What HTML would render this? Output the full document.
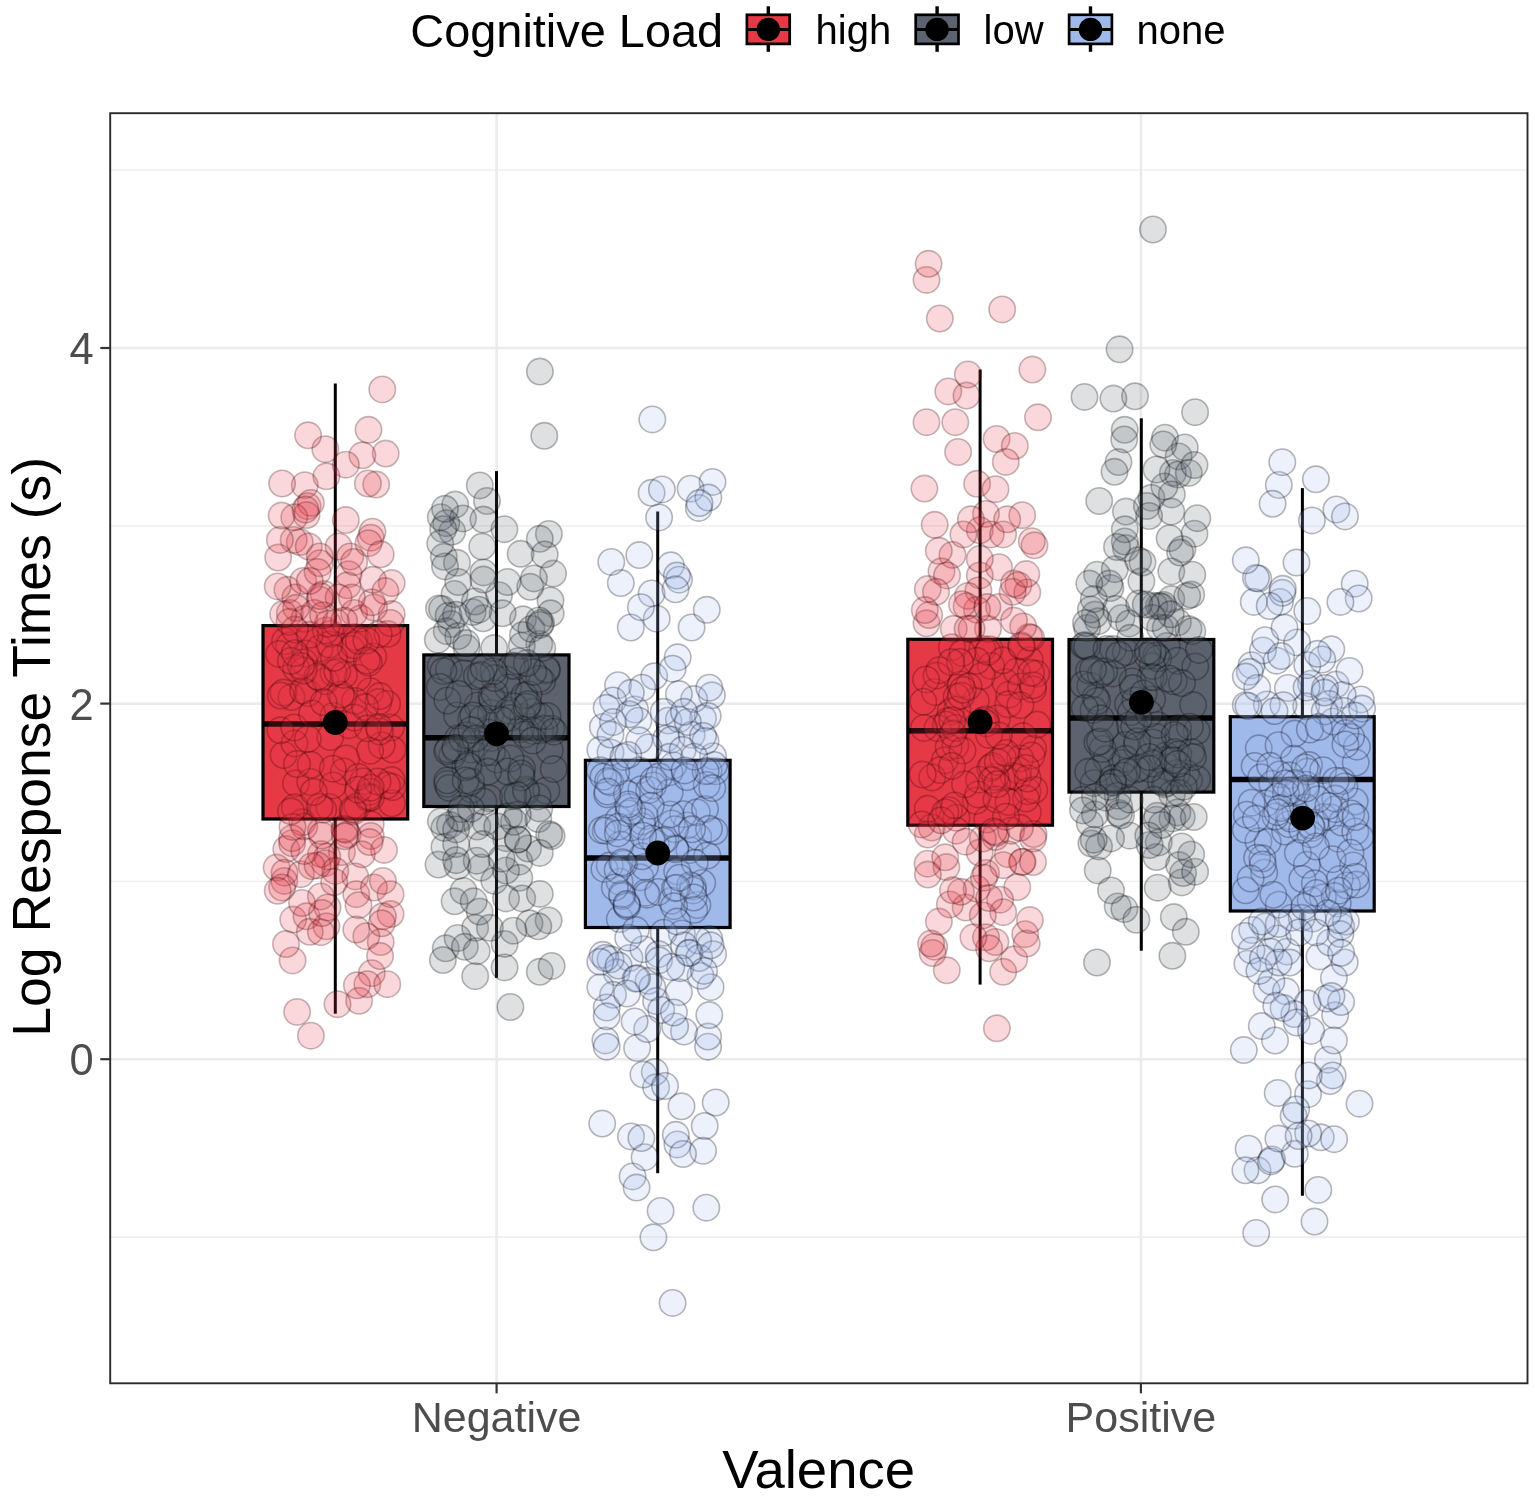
<!DOCTYPE html>
<html><head><meta charset="utf-8"><title>Log Response Times by Valence and Cognitive Load</title>
<style>
html,body{margin:0;padding:0;background:#fff;}
svg{display:block;}
text{font-family:"Liberation Sans",Arial,Helvetica,sans-serif;}
</style></head><body>
<svg width="1535" height="1499" viewBox="0 0 1535 1499">
<rect x="0" y="0" width="1535" height="1499" fill="#ffffff"/>

<g stroke="#ebebeb" fill="none">
<line x1="110.2" x2="1527.5" y1="170.2" y2="170.2" stroke-width="1.3"/>
<line x1="110.2" x2="1527.5" y1="525.8" y2="525.8" stroke-width="1.3"/>
<line x1="110.2" x2="1527.5" y1="881.4" y2="881.4" stroke-width="1.3"/>
<line x1="110.2" x2="1527.5" y1="1237.0" y2="1237.0" stroke-width="1.3"/>
<line x1="110.2" x2="1527.5" y1="348.0" y2="348.0" stroke-width="2.6"/>
<line x1="110.2" x2="1527.5" y1="703.6" y2="703.6" stroke-width="2.6"/>
<line x1="110.2" x2="1527.5" y1="1059.2" y2="1059.2" stroke-width="2.6"/>
<line x1="496.6" x2="496.6" y1="113.2" y2="1383.3" stroke-width="2.6"/>
<line x1="1140.9" x2="1140.9" y1="113.2" y2="1383.3" stroke-width="2.6"/>
</g>
<line x1="335.3" x2="335.3" y1="383.5" y2="625.6" stroke="#000" stroke-width="3"/>
<line x1="335.3" x2="335.3" y1="819.0" y2="1013.7" stroke="#000" stroke-width="3"/>
<rect x="263.0" y="625.6" width="144.7" height="193.4" fill="#e63946" stroke="#000" stroke-width="3.2"/>
<line x1="263.0" x2="407.7" y1="724.0" y2="724.0" stroke="#000" stroke-width="5.5"/>
<line x1="496.5" x2="496.5" y1="471.1" y2="654.9" stroke="#000" stroke-width="3"/>
<line x1="496.5" x2="496.5" y1="806.5" y2="977.8" stroke="#000" stroke-width="3"/>
<rect x="423.8" y="654.9" width="145.2" height="151.6" fill="#5c626e" stroke="#000" stroke-width="3.2"/>
<line x1="423.8" x2="569.0" y1="737.7" y2="737.7" stroke="#000" stroke-width="5.5"/>
<line x1="657.7" x2="657.7" y1="511.5" y2="760.3" stroke="#000" stroke-width="3"/>
<line x1="657.7" x2="657.7" y1="927.5" y2="1173.2" stroke="#000" stroke-width="3"/>
<rect x="585.4" y="760.3" width="144.7" height="167.2" fill="#a0b9eb" stroke="#000" stroke-width="3.2"/>
<line x1="585.4" x2="730.1" y1="858.0" y2="858.0" stroke="#000" stroke-width="5.5"/>
<line x1="980.1" x2="980.1" y1="369.5" y2="639.3" stroke="#000" stroke-width="3"/>
<line x1="980.1" x2="980.1" y1="825.2" y2="984.6" stroke="#000" stroke-width="3"/>
<rect x="907.8" y="639.3" width="144.7" height="185.9" fill="#e63946" stroke="#000" stroke-width="3.2"/>
<line x1="907.8" x2="1052.5" y1="730.8" y2="730.8" stroke="#000" stroke-width="5.5"/>
<line x1="1141.3" x2="1141.3" y1="418.3" y2="639.5" stroke="#000" stroke-width="3"/>
<line x1="1141.3" x2="1141.3" y1="792.1" y2="950.7" stroke="#000" stroke-width="3"/>
<rect x="1069.0" y="639.5" width="144.8" height="152.6" fill="#5c626e" stroke="#000" stroke-width="3.2"/>
<line x1="1069.0" x2="1213.8" y1="718.0" y2="718.0" stroke="#000" stroke-width="5.5"/>
<line x1="1302.4" x2="1302.4" y1="488.1" y2="716.7" stroke="#000" stroke-width="3"/>
<line x1="1302.4" x2="1302.4" y1="911.0" y2="1195.7" stroke="#000" stroke-width="3"/>
<rect x="1230.3" y="716.7" width="143.9" height="194.3" fill="#a0b9eb" stroke="#000" stroke-width="3.2"/>
<line x1="1230.3" x2="1374.2" y1="779.4" y2="779.4" stroke="#000" stroke-width="5.5"/>
<g fill="rgba(230,57,70,0.2)" stroke="rgba(50,0,5,0.27)" stroke-width="1.6">
<circle cx="306.0" cy="653.6" r="13.2"/>
<circle cx="370.2" cy="691.2" r="13.2"/>
<circle cx="289.2" cy="645.5" r="13.2"/>
<circle cx="276.6" cy="867.6" r="13.2"/>
<circle cx="330.2" cy="737.1" r="13.2"/>
<circle cx="299.8" cy="542.1" r="13.2"/>
<circle cx="291.5" cy="697.1" r="13.2"/>
<circle cx="371.8" cy="973.2" r="13.2"/>
<circle cx="390.8" cy="727.5" r="13.2"/>
<circle cx="302.4" cy="822.3" r="13.2"/>
<circle cx="355.2" cy="876.4" r="13.2"/>
<circle cx="283.6" cy="755.0" r="13.2"/>
<circle cx="287.4" cy="589.8" r="13.2"/>
<circle cx="341.9" cy="852.1" r="13.2"/>
<circle cx="327.2" cy="856.4" r="13.2"/>
<circle cx="333.4" cy="716.0" r="13.2"/>
<circle cx="390.6" cy="914.1" r="13.2"/>
<circle cx="357.6" cy="677.7" r="13.2"/>
<circle cx="285.1" cy="641.1" r="13.2"/>
<circle cx="326.4" cy="926.3" r="13.2"/>
<circle cx="338.6" cy="546.5" r="13.2"/>
<circle cx="289.9" cy="613.0" r="13.2"/>
<circle cx="354.8" cy="636.9" r="13.2"/>
<circle cx="310.9" cy="1035.7" r="13.2"/>
<circle cx="368.0" cy="798.3" r="13.2"/>
<circle cx="286.3" cy="849.1" r="13.2"/>
<circle cx="363.1" cy="781.3" r="13.2"/>
<circle cx="304.8" cy="485.2" r="13.2"/>
<circle cx="385.7" cy="453.6" r="13.2"/>
<circle cx="293.2" cy="919.6" r="13.2"/>
<circle cx="325.3" cy="863.2" r="13.2"/>
<circle cx="292.6" cy="960.4" r="13.2"/>
<circle cx="284.3" cy="880.9" r="13.2"/>
<circle cx="292.1" cy="843.2" r="13.2"/>
<circle cx="294.5" cy="743.4" r="13.2"/>
<circle cx="380.7" cy="942.1" r="13.2"/>
<circle cx="306.5" cy="916.3" r="13.2"/>
<circle cx="321.0" cy="854.1" r="13.2"/>
<circle cx="359.1" cy="1000.8" r="13.2"/>
<circle cx="370.7" cy="537.7" r="13.2"/>
<circle cx="382.9" cy="916.3" r="13.2"/>
<circle cx="293.7" cy="539.9" r="13.2"/>
<circle cx="382.3" cy="389.4" r="13.2"/>
<circle cx="283.4" cy="692.6" r="13.2"/>
<circle cx="304.2" cy="662.3" r="13.2"/>
<circle cx="284.5" cy="872.7" r="13.2"/>
<circle cx="319.5" cy="648.4" r="13.2"/>
<circle cx="356.3" cy="894.2" r="13.2"/>
<circle cx="296.0" cy="783.3" r="13.2"/>
<circle cx="391.7" cy="614.1" r="13.2"/>
<circle cx="335.3" cy="870.9" r="13.2"/>
<circle cx="392.5" cy="749.6" r="13.2"/>
<circle cx="374.0" cy="887.5" r="13.2"/>
<circle cx="286.0" cy="944.0" r="13.2"/>
<circle cx="387.6" cy="633.9" r="13.2"/>
<circle cx="323.7" cy="593.9" r="13.2"/>
<circle cx="391.9" cy="803.3" r="13.2"/>
<circle cx="345.2" cy="829.9" r="13.2"/>
<circle cx="350.9" cy="648.8" r="13.2"/>
<circle cx="387.1" cy="704.0" r="13.2"/>
<circle cx="308.0" cy="693.1" r="13.2"/>
<circle cx="300.9" cy="874.2" r="13.2"/>
<circle cx="368.5" cy="429.8" r="13.2"/>
<circle cx="346.2" cy="758.5" r="13.2"/>
<circle cx="381.8" cy="923.3" r="13.2"/>
<circle cx="295.4" cy="597.5" r="13.2"/>
<circle cx="310.3" cy="782.0" r="13.2"/>
<circle cx="325.5" cy="681.2" r="13.2"/>
<circle cx="372.4" cy="531.7" r="13.2"/>
<circle cx="367.4" cy="984.2" r="13.2"/>
<circle cx="354.9" cy="701.1" r="13.2"/>
<circle cx="353.9" cy="645.3" r="13.2"/>
<circle cx="392.5" cy="787.0" r="13.2"/>
<circle cx="390.6" cy="894.2" r="13.2"/>
<circle cx="308.7" cy="546.5" r="13.2"/>
<circle cx="362.4" cy="455.3" r="13.2"/>
<circle cx="303.2" cy="580.9" r="13.2"/>
<circle cx="391.6" cy="780.1" r="13.2"/>
<circle cx="357.4" cy="806.3" r="13.2"/>
<circle cx="307.6" cy="506.2" r="13.2"/>
<circle cx="278.2" cy="557.6" r="13.2"/>
<circle cx="369.9" cy="791.7" r="13.2"/>
<circle cx="282.1" cy="483.5" r="13.2"/>
<circle cx="387.3" cy="984.2" r="13.2"/>
<circle cx="348.6" cy="574.2" r="13.2"/>
<circle cx="282.1" cy="887.5" r="13.2"/>
<circle cx="358.7" cy="640.8" r="13.2"/>
<circle cx="319.8" cy="599.7" r="13.2"/>
<circle cx="373.2" cy="656.7" r="13.2"/>
<circle cx="366.3" cy="936.2" r="13.2"/>
<circle cx="320.9" cy="831.0" r="13.2"/>
<circle cx="370.7" cy="824.4" r="13.2"/>
<circle cx="378.4" cy="702.1" r="13.2"/>
<circle cx="356.9" cy="985.3" r="13.2"/>
<circle cx="325.3" cy="449.2" r="13.2"/>
<circle cx="330.9" cy="633.8" r="13.2"/>
<circle cx="309.8" cy="931.8" r="13.2"/>
<circle cx="376.2" cy="484.6" r="13.2"/>
<circle cx="347.5" cy="585.3" r="13.2"/>
<circle cx="374.0" cy="607.5" r="13.2"/>
<circle cx="343.0" cy="698.1" r="13.2"/>
<circle cx="390.6" cy="623.0" r="13.2"/>
<circle cx="338.6" cy="597.5" r="13.2"/>
<circle cx="296.1" cy="668.3" r="13.2"/>
<circle cx="384.0" cy="849.9" r="13.2"/>
<circle cx="304.3" cy="826.6" r="13.2"/>
<circle cx="329.2" cy="806.9" r="13.2"/>
<circle cx="353.5" cy="811.3" r="13.2"/>
<circle cx="304.3" cy="618.8" r="13.2"/>
<circle cx="381.7" cy="745.3" r="13.2"/>
<circle cx="358.5" cy="905.2" r="13.2"/>
<circle cx="279.9" cy="539.9" r="13.2"/>
<circle cx="322.0" cy="835.5" r="13.2"/>
<circle cx="354.1" cy="613.0" r="13.2"/>
<circle cx="310.9" cy="502.9" r="13.2"/>
<circle cx="320.9" cy="932.2" r="13.2"/>
<circle cx="350.2" cy="556.5" r="13.2"/>
<circle cx="292.1" cy="838.2" r="13.2"/>
<circle cx="306.5" cy="515.1" r="13.2"/>
<circle cx="280.7" cy="695.5" r="13.2"/>
<circle cx="354.1" cy="562.0" r="13.2"/>
<circle cx="379.8" cy="731.5" r="13.2"/>
<circle cx="280.4" cy="730.3" r="13.2"/>
<circle cx="327.5" cy="907.5" r="13.2"/>
<circle cx="320.9" cy="896.4" r="13.2"/>
<circle cx="356.3" cy="929.6" r="13.2"/>
<circle cx="311.7" cy="866.2" r="13.2"/>
<circle cx="391.7" cy="583.1" r="13.2"/>
<circle cx="343.8" cy="771.4" r="13.2"/>
<circle cx="277.7" cy="890.8" r="13.2"/>
<circle cx="323.2" cy="809.7" r="13.2"/>
<circle cx="279.0" cy="653.9" r="13.2"/>
<circle cx="296.2" cy="607.8" r="13.2"/>
<circle cx="370.9" cy="797.4" r="13.2"/>
<circle cx="345.8" cy="520.1" r="13.2"/>
<circle cx="334.2" cy="882.0" r="13.2"/>
<circle cx="379.9" cy="696.1" r="13.2"/>
<circle cx="380.1" cy="956.0" r="13.2"/>
<circle cx="319.8" cy="563.2" r="13.2"/>
<circle cx="337.5" cy="1004.2" r="13.2"/>
<circle cx="340.9" cy="694.6" r="13.2"/>
<circle cx="289.5" cy="621.8" r="13.2"/>
<circle cx="329.4" cy="644.5" r="13.2"/>
<circle cx="333.6" cy="672.9" r="13.2"/>
<circle cx="332.9" cy="785.4" r="13.2"/>
<circle cx="310.7" cy="764.8" r="13.2"/>
<circle cx="367.8" cy="796.4" r="13.2"/>
<circle cx="294.3" cy="727.5" r="13.2"/>
<circle cx="370.7" cy="836.0" r="13.2"/>
<circle cx="303.2" cy="690.7" r="13.2"/>
<circle cx="319.8" cy="678.0" r="13.2"/>
<circle cx="307.8" cy="738.8" r="13.2"/>
<circle cx="348.9" cy="725.2" r="13.2"/>
<circle cx="360.7" cy="618.5" r="13.2"/>
<circle cx="343.9" cy="674.9" r="13.2"/>
<circle cx="325.9" cy="630.4" r="13.2"/>
<circle cx="378.7" cy="634.3" r="13.2"/>
<circle cx="327.9" cy="623.5" r="13.2"/>
<circle cx="294.3" cy="517.3" r="13.2"/>
<circle cx="297.0" cy="764.0" r="13.2"/>
<circle cx="309.7" cy="634.8" r="13.2"/>
<circle cx="371.9" cy="602.3" r="13.2"/>
<circle cx="312.1" cy="713.6" r="13.2"/>
<circle cx="368.5" cy="543.2" r="13.2"/>
<circle cx="367.9" cy="483.5" r="13.2"/>
<circle cx="317.6" cy="865.4" r="13.2"/>
<circle cx="314.2" cy="613.0" r="13.2"/>
<circle cx="347.5" cy="834.4" r="13.2"/>
<circle cx="305.4" cy="509.5" r="13.2"/>
<circle cx="354.3" cy="717.5" r="13.2"/>
<circle cx="380.7" cy="554.3" r="13.2"/>
<circle cx="344.4" cy="828.9" r="13.2"/>
<circle cx="317.6" cy="676.4" r="13.2"/>
<circle cx="365.1" cy="707.1" r="13.2"/>
<circle cx="337.3" cy="671.6" r="13.2"/>
<circle cx="294.8" cy="629.6" r="13.2"/>
<circle cx="370.1" cy="750.7" r="13.2"/>
<circle cx="319.6" cy="806.7" r="13.2"/>
<circle cx="386.9" cy="785.3" r="13.2"/>
<circle cx="319.8" cy="556.5" r="13.2"/>
<circle cx="294.8" cy="807.2" r="13.2"/>
<circle cx="292.5" cy="826.9" r="13.2"/>
<circle cx="317.6" cy="572.0" r="13.2"/>
<circle cx="351.9" cy="597.5" r="13.2"/>
<circle cx="367.7" cy="728.3" r="13.2"/>
<circle cx="308.1" cy="435.3" r="13.2"/>
<circle cx="377.5" cy="781.5" r="13.2"/>
<circle cx="283.2" cy="614.1" r="13.2"/>
<circle cx="336.1" cy="622.4" r="13.2"/>
<circle cx="345.8" cy="464.7" r="13.2"/>
<circle cx="358.4" cy="776.9" r="13.2"/>
<circle cx="352.7" cy="809.6" r="13.2"/>
<circle cx="372.9" cy="579.8" r="13.2"/>
<circle cx="334.0" cy="657.8" r="13.2"/>
<circle cx="303.6" cy="670.5" r="13.2"/>
<circle cx="368.8" cy="662.7" r="13.2"/>
<circle cx="301.0" cy="666.1" r="13.2"/>
<circle cx="378.8" cy="727.0" r="13.2"/>
<circle cx="290.9" cy="660.8" r="13.2"/>
<circle cx="323.6" cy="702.3" r="13.2"/>
<circle cx="385.4" cy="591.1" r="13.2"/>
<circle cx="322.0" cy="913.0" r="13.2"/>
<circle cx="358.1" cy="789.7" r="13.2"/>
<circle cx="281.6" cy="515.6" r="13.2"/>
<circle cx="277.7" cy="586.4" r="13.2"/>
<circle cx="297.1" cy="1011.9" r="13.2"/>
<circle cx="313.7" cy="791.9" r="13.2"/>
<circle cx="361.8" cy="854.3" r="13.2"/>
<circle cx="302.0" cy="903.0" r="13.2"/>
<circle cx="366.4" cy="640.5" r="13.2"/>
<circle cx="370.8" cy="787.7" r="13.2"/>
<circle cx="304.3" cy="851.0" r="13.2"/>
<circle cx="344.9" cy="836.3" r="13.2"/>
<circle cx="382.9" cy="880.9" r="13.2"/>
<circle cx="294.8" cy="653.2" r="13.2"/>
<circle cx="369.6" cy="842.1" r="13.2"/>
<circle cx="326.4" cy="476.3" r="13.2"/>
<circle cx="344.1" cy="620.7" r="13.2"/>
<circle cx="332.8" cy="768.7" r="13.2"/>
<circle cx="323.1" cy="615.2" r="13.2"/>
<circle cx="320.3" cy="596.1" r="13.2"/>
<circle cx="309.8" cy="580.9" r="13.2"/>
<circle cx="366.8" cy="660.6" r="13.2"/>
<circle cx="291.0" cy="811.3" r="13.2"/>
</g>
<g fill="rgba(92,98,110,0.2)" stroke="rgba(0,0,0,0.28)" stroke-width="1.6">
<circle cx="471.2" cy="718.5" r="13.2"/>
<circle cx="442.1" cy="608.9" r="13.2"/>
<circle cx="494.2" cy="648.1" r="13.2"/>
<circle cx="532.4" cy="726.9" r="13.2"/>
<circle cx="474.7" cy="737.7" r="13.2"/>
<circle cx="439.0" cy="608.5" r="13.2"/>
<circle cx="546.8" cy="670.5" r="13.2"/>
<circle cx="457.6" cy="866.1" r="13.2"/>
<circle cx="515.3" cy="666.3" r="13.2"/>
<circle cx="523.0" cy="619.3" r="13.2"/>
<circle cx="489.1" cy="798.3" r="13.2"/>
<circle cx="482.2" cy="546.6" r="13.2"/>
<circle cx="451.0" cy="624.1" r="13.2"/>
<circle cx="459.1" cy="817.6" r="13.2"/>
<circle cx="506.0" cy="838.2" r="13.2"/>
<circle cx="548.9" cy="534.0" r="13.2"/>
<circle cx="440.7" cy="666.2" r="13.2"/>
<circle cx="454.6" cy="901.3" r="13.2"/>
<circle cx="458.3" cy="737.9" r="13.2"/>
<circle cx="544.3" cy="435.8" r="13.2"/>
<circle cx="518.1" cy="839.4" r="13.2"/>
<circle cx="548.6" cy="920.4" r="13.2"/>
<circle cx="471.8" cy="789.6" r="13.2"/>
<circle cx="525.8" cy="789.6" r="13.2"/>
<circle cx="532.4" cy="711.8" r="13.2"/>
<circle cx="546.4" cy="790.5" r="13.2"/>
<circle cx="447.4" cy="783.8" r="13.2"/>
<circle cx="448.6" cy="615.7" r="13.2"/>
<circle cx="481.1" cy="867.5" r="13.2"/>
<circle cx="445.8" cy="948.3" r="13.2"/>
<circle cx="499.0" cy="595.2" r="13.2"/>
<circle cx="539.3" cy="644.0" r="13.2"/>
<circle cx="483.4" cy="572.4" r="13.2"/>
<circle cx="502.6" cy="613.3" r="13.2"/>
<circle cx="520.6" cy="553.8" r="13.2"/>
<circle cx="522.9" cy="717.1" r="13.2"/>
<circle cx="539.8" cy="971.8" r="13.2"/>
<circle cx="438.5" cy="864.6" r="13.2"/>
<circle cx="549.8" cy="750.4" r="13.2"/>
<circle cx="444.4" cy="847.0" r="13.2"/>
<circle cx="542.1" cy="681.2" r="13.2"/>
<circle cx="497.1" cy="759.6" r="13.2"/>
<circle cx="526.2" cy="791.8" r="13.2"/>
<circle cx="523.0" cy="634.9" r="13.2"/>
<circle cx="443.8" cy="556.8" r="13.2"/>
<circle cx="449.0" cy="669.6" r="13.2"/>
<circle cx="461.0" cy="818.5" r="13.2"/>
<circle cx="483.2" cy="618.3" r="13.2"/>
<circle cx="540.1" cy="730.4" r="13.2"/>
<circle cx="466.6" cy="648.1" r="13.2"/>
<circle cx="452.2" cy="531.6" r="13.2"/>
<circle cx="504.4" cy="529.2" r="13.2"/>
<circle cx="463.8" cy="673.2" r="13.2"/>
<circle cx="477.3" cy="826.5" r="13.2"/>
<circle cx="477.7" cy="705.5" r="13.2"/>
<circle cx="475.2" cy="976.2" r="13.2"/>
<circle cx="490.9" cy="713.0" r="13.2"/>
<circle cx="457.0" cy="562.8" r="13.2"/>
<circle cx="538.3" cy="819.1" r="13.2"/>
<circle cx="521.8" cy="645.7" r="13.2"/>
<circle cx="443.4" cy="671.1" r="13.2"/>
<circle cx="491.5" cy="696.8" r="13.2"/>
<circle cx="550.5" cy="600.5" r="13.2"/>
<circle cx="551.3" cy="728.7" r="13.2"/>
<circle cx="494.3" cy="880.8" r="13.2"/>
<circle cx="519.3" cy="861.7" r="13.2"/>
<circle cx="463.5" cy="891.0" r="13.2"/>
<circle cx="519.3" cy="877.8" r="13.2"/>
<circle cx="522.1" cy="768.7" r="13.2"/>
<circle cx="492.5" cy="699.9" r="13.2"/>
<circle cx="440.8" cy="517.2" r="13.2"/>
<circle cx="510.4" cy="1007.0" r="13.2"/>
<circle cx="546.7" cy="669.0" r="13.2"/>
<circle cx="506.6" cy="679.6" r="13.2"/>
<circle cx="508.5" cy="710.5" r="13.2"/>
<circle cx="488.3" cy="732.6" r="13.2"/>
<circle cx="475.2" cy="927.8" r="13.2"/>
<circle cx="455.8" cy="750.1" r="13.2"/>
<circle cx="522.2" cy="898.4" r="13.2"/>
<circle cx="537.5" cy="796.4" r="13.2"/>
<circle cx="547.5" cy="716.1" r="13.2"/>
<circle cx="539.8" cy="538.8" r="13.2"/>
<circle cx="504.6" cy="967.4" r="13.2"/>
<circle cx="472.6" cy="612.1" r="13.2"/>
<circle cx="511.9" cy="665.6" r="13.2"/>
<circle cx="508.1" cy="687.4" r="13.2"/>
<circle cx="446.7" cy="631.2" r="13.2"/>
<circle cx="528.5" cy="694.5" r="13.2"/>
<circle cx="521.4" cy="777.3" r="13.2"/>
<circle cx="494.5" cy="693.2" r="13.2"/>
<circle cx="491.0" cy="737.9" r="13.2"/>
<circle cx="530.2" cy="586.8" r="13.2"/>
<circle cx="482.1" cy="718.7" r="13.2"/>
<circle cx="465.3" cy="767.5" r="13.2"/>
<circle cx="550.7" cy="613.3" r="13.2"/>
<circle cx="513.1" cy="796.2" r="13.2"/>
<circle cx="449.2" cy="787.8" r="13.2"/>
<circle cx="444.4" cy="827.9" r="13.2"/>
<circle cx="457.6" cy="938.0" r="13.2"/>
<circle cx="531.4" cy="628.9" r="13.2"/>
<circle cx="449.9" cy="824.9" r="13.2"/>
<circle cx="504.6" cy="943.9" r="13.2"/>
<circle cx="542.3" cy="648.1" r="13.2"/>
<circle cx="464.9" cy="946.8" r="13.2"/>
<circle cx="455.2" cy="504.6" r="13.2"/>
<circle cx="532.7" cy="730.8" r="13.2"/>
<circle cx="439.9" cy="687.0" r="13.2"/>
<circle cx="458.2" cy="636.1" r="13.2"/>
<circle cx="509.0" cy="816.2" r="13.2"/>
<circle cx="489.9" cy="927.8" r="13.2"/>
<circle cx="454.6" cy="594.0" r="13.2"/>
<circle cx="491.9" cy="752.2" r="13.2"/>
<circle cx="494.5" cy="678.1" r="13.2"/>
<circle cx="452.4" cy="755.0" r="13.2"/>
<circle cx="529.5" cy="923.3" r="13.2"/>
<circle cx="524.2" cy="695.6" r="13.2"/>
<circle cx="476.7" cy="860.7" r="13.2"/>
<circle cx="544.3" cy="728.6" r="13.2"/>
<circle cx="553.1" cy="573.6" r="13.2"/>
<circle cx="509.8" cy="717.9" r="13.2"/>
<circle cx="463.0" cy="518.4" r="13.2"/>
<circle cx="493.4" cy="671.2" r="13.2"/>
<circle cx="538.3" cy="926.3" r="13.2"/>
<circle cx="476.7" cy="951.2" r="13.2"/>
<circle cx="485.5" cy="822.0" r="13.2"/>
<circle cx="448.3" cy="749.3" r="13.2"/>
<circle cx="487.0" cy="501.0" r="13.2"/>
<circle cx="483.4" cy="801.6" r="13.2"/>
<circle cx="482.5" cy="844.1" r="13.2"/>
<circle cx="540.1" cy="716.3" r="13.2"/>
<circle cx="456.1" cy="844.1" r="13.2"/>
<circle cx="479.6" cy="911.6" r="13.2"/>
<circle cx="539.4" cy="678.8" r="13.2"/>
<circle cx="520.7" cy="729.2" r="13.2"/>
<circle cx="457.0" cy="715.5" r="13.2"/>
<circle cx="479.8" cy="485.4" r="13.2"/>
<circle cx="510.6" cy="758.4" r="13.2"/>
<circle cx="447.4" cy="700.5" r="13.2"/>
<circle cx="456.1" cy="860.2" r="13.2"/>
<circle cx="475.0" cy="601.5" r="13.2"/>
<circle cx="470.8" cy="808.8" r="13.2"/>
<circle cx="447.2" cy="751.3" r="13.2"/>
<circle cx="473.7" cy="901.3" r="13.2"/>
<circle cx="470.9" cy="749.6" r="13.2"/>
<circle cx="507.4" cy="582.0" r="13.2"/>
<circle cx="483.4" cy="579.6" r="13.2"/>
<circle cx="440.9" cy="821.3" r="13.2"/>
<circle cx="468.9" cy="766.2" r="13.2"/>
<circle cx="528.1" cy="848.5" r="13.2"/>
<circle cx="514.1" cy="706.5" r="13.2"/>
<circle cx="506.0" cy="898.4" r="13.2"/>
<circle cx="446.2" cy="523.2" r="13.2"/>
<circle cx="525.0" cy="734.4" r="13.2"/>
<circle cx="517.8" cy="839.6" r="13.2"/>
<circle cx="476.9" cy="676.3" r="13.2"/>
<circle cx="480.9" cy="675.1" r="13.2"/>
<circle cx="443.2" cy="529.2" r="13.2"/>
<circle cx="466.9" cy="735.2" r="13.2"/>
<circle cx="445.0" cy="566.4" r="13.2"/>
<circle cx="514.0" cy="821.8" r="13.2"/>
<circle cx="483.8" cy="668.2" r="13.2"/>
<circle cx="532.8" cy="740.5" r="13.2"/>
<circle cx="541.0" cy="622.9" r="13.2"/>
<circle cx="437.8" cy="639.7" r="13.2"/>
<circle cx="551.6" cy="836.0" r="13.2"/>
<circle cx="458.2" cy="582.0" r="13.2"/>
<circle cx="471.1" cy="781.6" r="13.2"/>
<circle cx="467.9" cy="765.2" r="13.2"/>
<circle cx="533.3" cy="671.9" r="13.2"/>
<circle cx="458.8" cy="694.0" r="13.2"/>
<circle cx="466.2" cy="643.1" r="13.2"/>
<circle cx="544.7" cy="554.4" r="13.2"/>
<circle cx="539.9" cy="371.6" r="13.2"/>
<circle cx="507.7" cy="771.5" r="13.2"/>
<circle cx="447.4" cy="780.3" r="13.2"/>
<circle cx="473.3" cy="715.5" r="13.2"/>
<circle cx="549.2" cy="834.3" r="13.2"/>
<circle cx="483.4" cy="519.6" r="13.2"/>
<circle cx="462.1" cy="738.5" r="13.2"/>
<circle cx="475.5" cy="738.7" r="13.2"/>
<circle cx="539.8" cy="893.9" r="13.2"/>
<circle cx="461.3" cy="809.0" r="13.2"/>
<circle cx="539.3" cy="808.4" r="13.2"/>
<circle cx="553.9" cy="731.7" r="13.2"/>
<circle cx="456.1" cy="614.8" r="13.2"/>
<circle cx="526.6" cy="706.7" r="13.2"/>
<circle cx="539.8" cy="852.9" r="13.2"/>
<circle cx="485.6" cy="752.6" r="13.2"/>
<circle cx="533.9" cy="578.4" r="13.2"/>
<circle cx="517.8" cy="814.7" r="13.2"/>
<circle cx="553.7" cy="769.1" r="13.2"/>
<circle cx="521.0" cy="773.5" r="13.2"/>
<circle cx="455.3" cy="747.7" r="13.2"/>
<circle cx="517.6" cy="795.3" r="13.2"/>
<circle cx="478.6" cy="609.7" r="13.2"/>
<circle cx="442.9" cy="960.1" r="13.2"/>
<circle cx="465.7" cy="780.4" r="13.2"/>
<circle cx="506.0" cy="870.5" r="13.2"/>
<circle cx="471.5" cy="729.9" r="13.2"/>
<circle cx="440.2" cy="543.6" r="13.2"/>
<circle cx="526.9" cy="663.1" r="13.2"/>
<circle cx="513.4" cy="930.7" r="13.2"/>
<circle cx="501.6" cy="858.7" r="13.2"/>
<circle cx="551.6" cy="965.9" r="13.2"/>
<circle cx="497.2" cy="826.4" r="13.2"/>
<circle cx="518.1" cy="661.2" r="13.2"/>
<circle cx="528.2" cy="704.2" r="13.2"/>
<circle cx="502.0" cy="720.3" r="13.2"/>
<circle cx="540.0" cy="624.9" r="13.2"/>
<circle cx="539.0" cy="620.5" r="13.2"/>
<circle cx="488.1" cy="771.6" r="13.2"/>
<circle cx="445.0" cy="508.8" r="13.2"/>
<circle cx="456.1" cy="829.4" r="13.2"/>
</g>
<g fill="rgba(160,185,235,0.2)" stroke="rgba(0,0,15,0.28)" stroke-width="1.6">
<circle cx="602.7" cy="954.8" r="13.2"/>
<circle cx="619.8" cy="919.1" r="13.2"/>
<circle cx="689.5" cy="850.0" r="13.2"/>
<circle cx="709.3" cy="939.0" r="13.2"/>
<circle cx="619.6" cy="881.7" r="13.2"/>
<circle cx="610.5" cy="752.4" r="13.2"/>
<circle cx="673.6" cy="765.3" r="13.2"/>
<circle cx="618.5" cy="819.7" r="13.2"/>
<circle cx="681.8" cy="933.4" r="13.2"/>
<circle cx="663.7" cy="932.7" r="13.2"/>
<circle cx="651.6" cy="593.4" r="13.2"/>
<circle cx="687.1" cy="825.4" r="13.2"/>
<circle cx="618.1" cy="685.2" r="13.2"/>
<circle cx="675.1" cy="848.1" r="13.2"/>
<circle cx="607.2" cy="794.3" r="13.2"/>
<circle cx="655.8" cy="843.2" r="13.2"/>
<circle cx="665.3" cy="839.6" r="13.2"/>
<circle cx="640.3" cy="877.3" r="13.2"/>
<circle cx="677.4" cy="1144.4" r="13.2"/>
<circle cx="660.6" cy="1210.9" r="13.2"/>
<circle cx="642.3" cy="826.3" r="13.2"/>
<circle cx="629.5" cy="958.0" r="13.2"/>
<circle cx="677.7" cy="657.3" r="13.2"/>
<circle cx="645.7" cy="892.7" r="13.2"/>
<circle cx="639.3" cy="555.1" r="13.2"/>
<circle cx="704.7" cy="1126.0" r="13.2"/>
<circle cx="703.1" cy="1150.8" r="13.2"/>
<circle cx="616.6" cy="972.3" r="13.2"/>
<circle cx="644.9" cy="815.9" r="13.2"/>
<circle cx="642.1" cy="821.4" r="13.2"/>
<circle cx="692.8" cy="886.4" r="13.2"/>
<circle cx="620.8" cy="583.1" r="13.2"/>
<circle cx="600.3" cy="749.8" r="13.2"/>
<circle cx="683.3" cy="814.2" r="13.2"/>
<circle cx="698.2" cy="836.9" r="13.2"/>
<circle cx="671.7" cy="823.5" r="13.2"/>
<circle cx="613.0" cy="700.4" r="13.2"/>
<circle cx="654.2" cy="676.3" r="13.2"/>
<circle cx="600.2" cy="770.2" r="13.2"/>
<circle cx="708.1" cy="1046.7" r="13.2"/>
<circle cx="671.7" cy="900.7" r="13.2"/>
<circle cx="696.8" cy="812.3" r="13.2"/>
<circle cx="609.7" cy="865.6" r="13.2"/>
<circle cx="639.1" cy="770.3" r="13.2"/>
<circle cx="712.5" cy="481.9" r="13.2"/>
<circle cx="602.2" cy="1123.6" r="13.2"/>
<circle cx="672.6" cy="1302.9" r="13.2"/>
<circle cx="670.8" cy="565.3" r="13.2"/>
<circle cx="643.4" cy="949.2" r="13.2"/>
<circle cx="715.7" cy="1102.5" r="13.2"/>
<circle cx="648.5" cy="980.8" r="13.2"/>
<circle cx="707.3" cy="855.5" r="13.2"/>
<circle cx="711.9" cy="695.3" r="13.2"/>
<circle cx="605.7" cy="830.8" r="13.2"/>
<circle cx="675.0" cy="829.2" r="13.2"/>
<circle cx="677.2" cy="871.3" r="13.2"/>
<circle cx="610.5" cy="959.3" r="13.2"/>
<circle cx="632.6" cy="1176.4" r="13.2"/>
<circle cx="645.0" cy="866.9" r="13.2"/>
<circle cx="626.5" cy="904.8" r="13.2"/>
<circle cx="697.4" cy="905.0" r="13.2"/>
<circle cx="703.0" cy="718.2" r="13.2"/>
<circle cx="602.9" cy="727.0" r="13.2"/>
<circle cx="605.4" cy="1040.4" r="13.2"/>
<circle cx="606.6" cy="707.8" r="13.2"/>
<circle cx="668.4" cy="720.6" r="13.2"/>
<circle cx="702.2" cy="883.0" r="13.2"/>
<circle cx="694.1" cy="699.1" r="13.2"/>
<circle cx="672.6" cy="668.7" r="13.2"/>
<circle cx="631.0" cy="1136.4" r="13.2"/>
<circle cx="690.6" cy="488.7" r="13.2"/>
<circle cx="623.5" cy="756.9" r="13.2"/>
<circle cx="708.1" cy="1036.6" r="13.2"/>
<circle cx="688.7" cy="953.1" r="13.2"/>
<circle cx="707.7" cy="716.0" r="13.2"/>
<circle cx="691.6" cy="627.5" r="13.2"/>
<circle cx="669.4" cy="772.3" r="13.2"/>
<circle cx="658.7" cy="954.2" r="13.2"/>
<circle cx="693.0" cy="890.4" r="13.2"/>
<circle cx="656.1" cy="1001.1" r="13.2"/>
<circle cx="622.2" cy="896.1" r="13.2"/>
<circle cx="653.4" cy="1237.3" r="13.2"/>
<circle cx="684.0" cy="1031.5" r="13.2"/>
<circle cx="710.6" cy="987.2" r="13.2"/>
<circle cx="666.3" cy="738.4" r="13.2"/>
<circle cx="631.2" cy="827.6" r="13.2"/>
<circle cx="670.2" cy="814.4" r="13.2"/>
<circle cx="698.8" cy="507.9" r="13.2"/>
<circle cx="675.8" cy="1134.8" r="13.2"/>
<circle cx="642.0" cy="856.3" r="13.2"/>
<circle cx="713.1" cy="756.2" r="13.2"/>
<circle cx="604.4" cy="868.9" r="13.2"/>
<circle cx="675.1" cy="1026.5" r="13.2"/>
<circle cx="656.7" cy="618.7" r="13.2"/>
<circle cx="641.4" cy="789.2" r="13.2"/>
<circle cx="623.9" cy="863.7" r="13.2"/>
<circle cx="698.2" cy="940.5" r="13.2"/>
<circle cx="684.0" cy="945.3" r="13.2"/>
<circle cx="630.8" cy="627.5" r="13.2"/>
<circle cx="637.1" cy="1048.0" r="13.2"/>
<circle cx="709.3" cy="687.7" r="13.2"/>
<circle cx="651.6" cy="492.8" r="13.2"/>
<circle cx="636.6" cy="1187.6" r="13.2"/>
<circle cx="705.0" cy="809.1" r="13.2"/>
<circle cx="610.2" cy="782.4" r="13.2"/>
<circle cx="653.2" cy="785.5" r="13.2"/>
<circle cx="601.8" cy="830.2" r="13.2"/>
<circle cx="669.7" cy="792.6" r="13.2"/>
<circle cx="640.9" cy="607.2" r="13.2"/>
<circle cx="690.2" cy="885.2" r="13.2"/>
<circle cx="678.9" cy="719.2" r="13.2"/>
<circle cx="647.1" cy="894.7" r="13.2"/>
<circle cx="628.2" cy="937.7" r="13.2"/>
<circle cx="620.4" cy="844.5" r="13.2"/>
<circle cx="700.5" cy="975.8" r="13.2"/>
<circle cx="635.0" cy="709.5" r="13.2"/>
<circle cx="699.2" cy="958.0" r="13.2"/>
<circle cx="679.0" cy="579.7" r="13.2"/>
<circle cx="649.2" cy="789.9" r="13.2"/>
<circle cx="629.2" cy="806.9" r="13.2"/>
<circle cx="613.0" cy="994.8" r="13.2"/>
<circle cx="714.4" cy="831.3" r="13.2"/>
<circle cx="658.2" cy="892.0" r="13.2"/>
<circle cx="661.9" cy="489.4" r="13.2"/>
<circle cx="708.4" cy="497.6" r="13.2"/>
<circle cx="617.6" cy="870.0" r="13.2"/>
<circle cx="606.7" cy="1007.5" r="13.2"/>
<circle cx="653.5" cy="780.3" r="13.2"/>
<circle cx="675.0" cy="888.2" r="13.2"/>
<circle cx="628.6" cy="813.4" r="13.2"/>
<circle cx="632.1" cy="811.1" r="13.2"/>
<circle cx="654.8" cy="1072.1" r="13.2"/>
<circle cx="689.5" cy="952.8" r="13.2"/>
<circle cx="644.6" cy="1157.2" r="13.2"/>
<circle cx="706.3" cy="1207.7" r="13.2"/>
<circle cx="652.3" cy="987.2" r="13.2"/>
<circle cx="613.0" cy="722.0" r="13.2"/>
<circle cx="708.6" cy="770.9" r="13.2"/>
<circle cx="659.1" cy="517.4" r="13.2"/>
<circle cx="652.3" cy="419.4" r="13.2"/>
<circle cx="661.2" cy="1010.0" r="13.2"/>
<circle cx="606.7" cy="1016.3" r="13.2"/>
<circle cx="659.2" cy="776.3" r="13.2"/>
<circle cx="659.0" cy="960.3" r="13.2"/>
<circle cx="678.9" cy="992.2" r="13.2"/>
<circle cx="694.2" cy="909.8" r="13.2"/>
<circle cx="671.3" cy="739.7" r="13.2"/>
<circle cx="605.4" cy="958.0" r="13.2"/>
<circle cx="691.7" cy="734.8" r="13.2"/>
<circle cx="706.8" cy="609.8" r="13.2"/>
<circle cx="647.2" cy="1029.0" r="13.2"/>
<circle cx="715.7" cy="771.3" r="13.2"/>
<circle cx="638.4" cy="720.7" r="13.2"/>
<circle cx="650.7" cy="805.7" r="13.2"/>
<circle cx="656.1" cy="1087.3" r="13.2"/>
<circle cx="714.1" cy="764.9" r="13.2"/>
<circle cx="603.4" cy="776.7" r="13.2"/>
<circle cx="709.0" cy="828.8" r="13.2"/>
<circle cx="641.4" cy="1138.0" r="13.2"/>
<circle cx="608.1" cy="781.1" r="13.2"/>
<circle cx="706.7" cy="785.0" r="13.2"/>
<circle cx="642.2" cy="687.7" r="13.2"/>
<circle cx="627.0" cy="793.9" r="13.2"/>
<circle cx="618.3" cy="826.7" r="13.2"/>
<circle cx="627.0" cy="906.2" r="13.2"/>
<circle cx="669.5" cy="756.8" r="13.2"/>
<circle cx="643.4" cy="1074.6" r="13.2"/>
<circle cx="651.5" cy="838.4" r="13.2"/>
<circle cx="676.9" cy="575.6" r="13.2"/>
<circle cx="662.9" cy="841.0" r="13.2"/>
<circle cx="678.9" cy="694.1" r="13.2"/>
<circle cx="616.2" cy="772.5" r="13.2"/>
<circle cx="705.5" cy="741.0" r="13.2"/>
<circle cx="686.9" cy="777.0" r="13.2"/>
<circle cx="634.6" cy="1021.4" r="13.2"/>
<circle cx="692.0" cy="829.3" r="13.2"/>
<circle cx="600.3" cy="987.2" r="13.2"/>
<circle cx="676.8" cy="887.7" r="13.2"/>
<circle cx="687.8" cy="722.0" r="13.2"/>
<circle cx="683.0" cy="1154.0" r="13.2"/>
<circle cx="648.5" cy="747.3" r="13.2"/>
<circle cx="682.7" cy="749.8" r="13.2"/>
<circle cx="611.3" cy="561.9" r="13.2"/>
<circle cx="665.0" cy="1086.0" r="13.2"/>
<circle cx="673.9" cy="1012.5" r="13.2"/>
<circle cx="600.3" cy="961.8" r="13.2"/>
<circle cx="618.6" cy="965.6" r="13.2"/>
<circle cx="705.6" cy="771.2" r="13.2"/>
<circle cx="713.1" cy="954.2" r="13.2"/>
<circle cx="628.2" cy="804.4" r="13.2"/>
<circle cx="635.8" cy="930.1" r="13.2"/>
<circle cx="694.2" cy="756.7" r="13.2"/>
<circle cx="635.7" cy="978.7" r="13.2"/>
<circle cx="680.2" cy="968.2" r="13.2"/>
<circle cx="629.5" cy="714.3" r="13.2"/>
<circle cx="639.2" cy="740.3" r="13.2"/>
<circle cx="637.1" cy="978.3" r="13.2"/>
<circle cx="693.7" cy="897.5" r="13.2"/>
<circle cx="709.3" cy="1015.1" r="13.2"/>
<circle cx="610.5" cy="734.6" r="13.2"/>
<circle cx="671.3" cy="966.9" r="13.2"/>
<circle cx="607.5" cy="791.6" r="13.2"/>
<circle cx="643.1" cy="835.7" r="13.2"/>
<circle cx="606.7" cy="1046.7" r="13.2"/>
<circle cx="607.5" cy="828.0" r="13.2"/>
<circle cx="710.6" cy="945.3" r="13.2"/>
<circle cx="617.9" cy="833.4" r="13.2"/>
<circle cx="674.0" cy="906.2" r="13.2"/>
<circle cx="675.5" cy="849.3" r="13.2"/>
<circle cx="703.0" cy="735.9" r="13.2"/>
<circle cx="622.4" cy="862.2" r="13.2"/>
<circle cx="712.3" cy="788.1" r="13.2"/>
<circle cx="627.0" cy="993.5" r="13.2"/>
<circle cx="704.0" cy="970.9" r="13.2"/>
<circle cx="663.7" cy="711.8" r="13.2"/>
<circle cx="628.2" cy="754.9" r="13.2"/>
<circle cx="630.8" cy="692.8" r="13.2"/>
<circle cx="622.0" cy="894.2" r="13.2"/>
<circle cx="677.2" cy="921.6" r="13.2"/>
<circle cx="614.8" cy="887.4" r="13.2"/>
<circle cx="626.7" cy="903.9" r="13.2"/>
<circle cx="675.5" cy="589.3" r="13.2"/>
<circle cx="694.7" cy="862.8" r="13.2"/>
<circle cx="699.5" cy="503.1" r="13.2"/>
<circle cx="684.0" cy="711.8" r="13.2"/>
<circle cx="679.5" cy="877.7" r="13.2"/>
<circle cx="684.6" cy="770.4" r="13.2"/>
<circle cx="681.5" cy="1106.3" r="13.2"/>
</g>
<g fill="rgba(230,57,70,0.2)" stroke="rgba(50,0,5,0.27)" stroke-width="1.6">
<circle cx="1009.2" cy="694.6" r="13.2"/>
<circle cx="956.5" cy="817.8" r="13.2"/>
<circle cx="979.8" cy="575.4" r="13.2"/>
<circle cx="1022.6" cy="861.7" r="13.2"/>
<circle cx="1033.6" cy="834.1" r="13.2"/>
<circle cx="995.4" cy="942.0" r="13.2"/>
<circle cx="941.5" cy="571.3" r="13.2"/>
<circle cx="989.6" cy="649.3" r="13.2"/>
<circle cx="1034.5" cy="545.3" r="13.2"/>
<circle cx="1003.2" cy="971.8" r="13.2"/>
<circle cx="948.3" cy="391.4" r="13.2"/>
<circle cx="1005.2" cy="682.1" r="13.2"/>
<circle cx="986.0" cy="937.3" r="13.2"/>
<circle cx="950.7" cy="711.6" r="13.2"/>
<circle cx="955.4" cy="745.5" r="13.2"/>
<circle cx="1022.2" cy="515.2" r="13.2"/>
<circle cx="934.8" cy="692.0" r="13.2"/>
<circle cx="1018.0" cy="777.6" r="13.2"/>
<circle cx="977.1" cy="483.8" r="13.2"/>
<circle cx="934.2" cy="946.7" r="13.2"/>
<circle cx="944.8" cy="760.3" r="13.2"/>
<circle cx="989.1" cy="948.3" r="13.2"/>
<circle cx="975.8" cy="700.8" r="13.2"/>
<circle cx="979.8" cy="530.3" r="13.2"/>
<circle cx="947.9" cy="721.0" r="13.2"/>
<circle cx="956.2" cy="830.7" r="13.2"/>
<circle cx="982.3" cy="648.9" r="13.2"/>
<circle cx="1033.1" cy="748.7" r="13.2"/>
<circle cx="1014.2" cy="959.3" r="13.2"/>
<circle cx="949.0" cy="810.2" r="13.2"/>
<circle cx="926.5" cy="623.3" r="13.2"/>
<circle cx="938.9" cy="921.6" r="13.2"/>
<circle cx="995.4" cy="837.0" r="13.2"/>
<circle cx="1027.8" cy="812.2" r="13.2"/>
<circle cx="986.0" cy="873.0" r="13.2"/>
<circle cx="957.3" cy="709.5" r="13.2"/>
<circle cx="953.8" cy="628.8" r="13.2"/>
<circle cx="988.0" cy="628.8" r="13.2"/>
<circle cx="926.5" cy="422.2" r="13.2"/>
<circle cx="931.7" cy="827.5" r="13.2"/>
<circle cx="958.1" cy="452.0" r="13.2"/>
<circle cx="1029.1" cy="637.0" r="13.2"/>
<circle cx="955.3" cy="422.2" r="13.2"/>
<circle cx="927.7" cy="808.8" r="13.2"/>
<circle cx="952.5" cy="554.9" r="13.2"/>
<circle cx="987.2" cy="819.6" r="13.2"/>
<circle cx="966.5" cy="395.6" r="13.2"/>
<circle cx="965.6" cy="907.5" r="13.2"/>
<circle cx="1017.3" cy="887.1" r="13.2"/>
<circle cx="1029.8" cy="660.2" r="13.2"/>
<circle cx="1018.1" cy="770.4" r="13.2"/>
<circle cx="1016.7" cy="671.6" r="13.2"/>
<circle cx="1008.2" cy="704.3" r="13.2"/>
<circle cx="926.5" cy="279.9" r="13.2"/>
<circle cx="946.4" cy="867.1" r="13.2"/>
<circle cx="932.2" cy="777.4" r="13.2"/>
<circle cx="937.5" cy="728.2" r="13.2"/>
<circle cx="978.4" cy="590.5" r="13.2"/>
<circle cx="1020.2" cy="758.4" r="13.2"/>
<circle cx="967.9" cy="374.5" r="13.2"/>
<circle cx="999.0" cy="606.9" r="13.2"/>
<circle cx="1004.6" cy="777.8" r="13.2"/>
<circle cx="1018.4" cy="585.3" r="13.2"/>
<circle cx="991.0" cy="665.9" r="13.2"/>
<circle cx="1027.3" cy="592.4" r="13.2"/>
<circle cx="1013.6" cy="776.0" r="13.2"/>
<circle cx="1000.1" cy="899.7" r="13.2"/>
<circle cx="927.6" cy="863.7" r="13.2"/>
<circle cx="1012.6" cy="591.8" r="13.2"/>
<circle cx="986.0" cy="513.9" r="13.2"/>
<circle cx="1036.1" cy="673.7" r="13.2"/>
<circle cx="976.6" cy="888.7" r="13.2"/>
<circle cx="1021.7" cy="646.8" r="13.2"/>
<circle cx="995.4" cy="777.0" r="13.2"/>
<circle cx="981.7" cy="676.0" r="13.2"/>
<circle cx="997.0" cy="718.4" r="13.2"/>
<circle cx="960.9" cy="684.4" r="13.2"/>
<circle cx="979.7" cy="852.6" r="13.2"/>
<circle cx="1022.0" cy="862.1" r="13.2"/>
<circle cx="1032.4" cy="369.6" r="13.2"/>
<circle cx="977.0" cy="609.8" r="13.2"/>
<circle cx="1022.8" cy="736.1" r="13.2"/>
<circle cx="1007.9" cy="854.2" r="13.2"/>
<circle cx="975.9" cy="800.8" r="13.2"/>
<circle cx="951.9" cy="647.2" r="13.2"/>
<circle cx="987.8" cy="651.9" r="13.2"/>
<circle cx="1021.2" cy="645.5" r="13.2"/>
<circle cx="1027.5" cy="791.3" r="13.2"/>
<circle cx="1037.0" cy="724.6" r="13.2"/>
<circle cx="1034.3" cy="790.1" r="13.2"/>
<circle cx="968.5" cy="686.4" r="13.2"/>
<circle cx="1021.0" cy="686.4" r="13.2"/>
<circle cx="1038.0" cy="417.3" r="13.2"/>
<circle cx="936.5" cy="675.6" r="13.2"/>
<circle cx="948.6" cy="747.2" r="13.2"/>
<circle cx="939.3" cy="670.2" r="13.2"/>
<circle cx="1003.2" cy="865.2" r="13.2"/>
<circle cx="990.8" cy="534.4" r="13.2"/>
<circle cx="927.8" cy="589.1" r="13.2"/>
<circle cx="1025.2" cy="934.2" r="13.2"/>
<circle cx="945.3" cy="812.5" r="13.2"/>
<circle cx="932.6" cy="953.0" r="13.2"/>
<circle cx="996.6" cy="439.0" r="13.2"/>
<circle cx="926.0" cy="679.4" r="13.2"/>
<circle cx="1031.6" cy="755.5" r="13.2"/>
<circle cx="982.8" cy="720.9" r="13.2"/>
<circle cx="973.4" cy="937.3" r="13.2"/>
<circle cx="990.2" cy="768.0" r="13.2"/>
<circle cx="986.3" cy="723.4" r="13.2"/>
<circle cx="927.8" cy="834.6" r="13.2"/>
<circle cx="921.7" cy="824.4" r="13.2"/>
<circle cx="1003.1" cy="534.4" r="13.2"/>
<circle cx="1025.9" cy="798.6" r="13.2"/>
<circle cx="940.2" cy="770.1" r="13.2"/>
<circle cx="929.2" cy="615.1" r="13.2"/>
<circle cx="941.2" cy="820.3" r="13.2"/>
<circle cx="968.0" cy="595.9" r="13.2"/>
<circle cx="963.4" cy="534.4" r="13.2"/>
<circle cx="938.8" cy="550.8" r="13.2"/>
<circle cx="979.0" cy="779.7" r="13.2"/>
<circle cx="976.5" cy="660.8" r="13.2"/>
<circle cx="1003.2" cy="912.2" r="13.2"/>
<circle cx="1014.8" cy="446.0" r="13.2"/>
<circle cx="989.1" cy="734.9" r="13.2"/>
<circle cx="1002.9" cy="757.6" r="13.2"/>
<circle cx="1032.9" cy="689.3" r="13.2"/>
<circle cx="962.4" cy="652.9" r="13.2"/>
<circle cx="934.7" cy="524.8" r="13.2"/>
<circle cx="965.6" cy="841.7" r="13.2"/>
<circle cx="939.8" cy="318.5" r="13.2"/>
<circle cx="923.3" cy="701.7" r="13.2"/>
<circle cx="946.8" cy="970.3" r="13.2"/>
<circle cx="947.0" cy="575.4" r="13.2"/>
<circle cx="931.1" cy="943.6" r="13.2"/>
<circle cx="978.1" cy="794.4" r="13.2"/>
<circle cx="945.9" cy="724.6" r="13.2"/>
<circle cx="1023.2" cy="626.4" r="13.2"/>
<circle cx="1008.5" cy="802.0" r="13.2"/>
<circle cx="936.0" cy="591.8" r="13.2"/>
<circle cx="966.6" cy="606.2" r="13.2"/>
<circle cx="1007.2" cy="519.3" r="13.2"/>
<circle cx="992.3" cy="765.9" r="13.2"/>
<circle cx="955.5" cy="728.0" r="13.2"/>
<circle cx="1027.7" cy="778.5" r="13.2"/>
<circle cx="1026.7" cy="943.6" r="13.2"/>
<circle cx="997.8" cy="762.1" r="13.2"/>
<circle cx="1033.0" cy="862.1" r="13.2"/>
<circle cx="965.0" cy="784.3" r="13.2"/>
<circle cx="949.9" cy="904.4" r="13.2"/>
<circle cx="928.6" cy="263.8" r="13.2"/>
<circle cx="991.9" cy="780.1" r="13.2"/>
<circle cx="971.6" cy="628.8" r="13.2"/>
<circle cx="983.9" cy="877.7" r="13.2"/>
<circle cx="1020.4" cy="705.2" r="13.2"/>
<circle cx="924.8" cy="610.1" r="13.2"/>
<circle cx="960.9" cy="891.8" r="13.2"/>
<circle cx="945.2" cy="857.3" r="13.2"/>
<circle cx="1033.0" cy="685.3" r="13.2"/>
<circle cx="956.6" cy="697.0" r="13.2"/>
<circle cx="999.0" cy="567.2" r="13.2"/>
<circle cx="1031.0" cy="672.8" r="13.2"/>
<circle cx="982.8" cy="915.4" r="13.2"/>
<circle cx="961.1" cy="695.7" r="13.2"/>
<circle cx="996.2" cy="832.8" r="13.2"/>
<circle cx="924.0" cy="727.9" r="13.2"/>
<circle cx="1025.9" cy="767.9" r="13.2"/>
<circle cx="1014.0" cy="583.6" r="13.2"/>
<circle cx="996.5" cy="799.4" r="13.2"/>
<circle cx="960.0" cy="661.9" r="13.2"/>
<circle cx="962.5" cy="750.6" r="13.2"/>
<circle cx="962.8" cy="689.8" r="13.2"/>
<circle cx="1014.0" cy="620.6" r="13.2"/>
<circle cx="1006.0" cy="753.1" r="13.2"/>
<circle cx="995.5" cy="489.2" r="13.2"/>
<circle cx="1026.3" cy="574.1" r="13.2"/>
<circle cx="962.0" cy="604.2" r="13.2"/>
<circle cx="982.8" cy="838.5" r="13.2"/>
<circle cx="997.1" cy="784.2" r="13.2"/>
<circle cx="987.4" cy="607.1" r="13.2"/>
<circle cx="1011.1" cy="830.7" r="13.2"/>
<circle cx="1002.7" cy="660.3" r="13.2"/>
<circle cx="951.2" cy="662.2" r="13.2"/>
<circle cx="1029.9" cy="920.1" r="13.2"/>
<circle cx="1033.0" cy="838.5" r="13.2"/>
<circle cx="1031.8" cy="541.2" r="13.2"/>
<circle cx="953.0" cy="890.3" r="13.2"/>
<circle cx="985.3" cy="719.5" r="13.2"/>
<circle cx="996.9" cy="1028.3" r="13.2"/>
<circle cx="954.7" cy="805.4" r="13.2"/>
<circle cx="922.7" cy="774.6" r="13.2"/>
<circle cx="953.1" cy="733.6" r="13.2"/>
<circle cx="998.8" cy="735.5" r="13.2"/>
<circle cx="1020.0" cy="827.8" r="13.2"/>
<circle cx="970.9" cy="519.3" r="13.2"/>
<circle cx="1002.2" cy="309.4" r="13.2"/>
<circle cx="924.4" cy="488.6" r="13.2"/>
<circle cx="993.8" cy="831.4" r="13.2"/>
<circle cx="1031.1" cy="637.8" r="13.2"/>
<circle cx="989.1" cy="898.1" r="13.2"/>
<circle cx="927.9" cy="874.6" r="13.2"/>
<circle cx="1005.8" cy="461.9" r="13.2"/>
<circle cx="1006.0" cy="816.7" r="13.2"/>
<circle cx="967.6" cy="628.7" r="13.2"/>
<circle cx="951.9" cy="765.9" r="13.2"/>
<circle cx="952.2" cy="720.2" r="13.2"/>
<circle cx="979.8" cy="559.0" r="13.2"/>
</g>
<g fill="rgba(92,98,110,0.2)" stroke="rgba(0,0,0,0.28)" stroke-width="1.6">
<circle cx="1105.6" cy="797.7" r="13.2"/>
<circle cx="1196.7" cy="731.1" r="13.2"/>
<circle cx="1178.1" cy="737.6" r="13.2"/>
<circle cx="1178.0" cy="728.3" r="13.2"/>
<circle cx="1186.0" cy="773.2" r="13.2"/>
<circle cx="1156.3" cy="736.8" r="13.2"/>
<circle cx="1162.7" cy="760.2" r="13.2"/>
<circle cx="1171.3" cy="599.1" r="13.2"/>
<circle cx="1166.5" cy="782.9" r="13.2"/>
<circle cx="1167.9" cy="767.2" r="13.2"/>
<circle cx="1164.9" cy="784.3" r="13.2"/>
<circle cx="1097.7" cy="870.4" r="13.2"/>
<circle cx="1121.4" cy="617.9" r="13.2"/>
<circle cx="1166.1" cy="755.4" r="13.2"/>
<circle cx="1194.5" cy="533.7" r="13.2"/>
<circle cx="1113.0" cy="649.1" r="13.2"/>
<circle cx="1177.0" cy="773.1" r="13.2"/>
<circle cx="1090.3" cy="685.8" r="13.2"/>
<circle cx="1172.9" cy="472.9" r="13.2"/>
<circle cx="1119.0" cy="813.0" r="13.2"/>
<circle cx="1117.7" cy="906.4" r="13.2"/>
<circle cx="1173.7" cy="681.3" r="13.2"/>
<circle cx="1085.0" cy="645.1" r="13.2"/>
<circle cx="1089.1" cy="670.6" r="13.2"/>
<circle cx="1097.1" cy="574.7" r="13.2"/>
<circle cx="1182.4" cy="549.2" r="13.2"/>
<circle cx="1113.1" cy="782.2" r="13.2"/>
<circle cx="1087.1" cy="627.9" r="13.2"/>
<circle cx="1181.8" cy="817.0" r="13.2"/>
<circle cx="1177.9" cy="622.3" r="13.2"/>
<circle cx="1175.1" cy="752.1" r="13.2"/>
<circle cx="1172.0" cy="794.1" r="13.2"/>
<circle cx="1139.7" cy="768.0" r="13.2"/>
<circle cx="1093.5" cy="783.2" r="13.2"/>
<circle cx="1159.0" cy="606.0" r="13.2"/>
<circle cx="1129.7" cy="835.7" r="13.2"/>
<circle cx="1083.0" cy="799.7" r="13.2"/>
<circle cx="1099.0" cy="846.4" r="13.2"/>
<circle cx="1150.5" cy="677.2" r="13.2"/>
<circle cx="1173.8" cy="917.1" r="13.2"/>
<circle cx="1151.4" cy="497.8" r="13.2"/>
<circle cx="1121.8" cy="763.1" r="13.2"/>
<circle cx="1111.0" cy="838.4" r="13.2"/>
<circle cx="1106.5" cy="758.8" r="13.2"/>
<circle cx="1130.0" cy="725.1" r="13.2"/>
<circle cx="1154.4" cy="605.9" r="13.2"/>
<circle cx="1110.4" cy="588.0" r="13.2"/>
<circle cx="1135.0" cy="396.3" r="13.2"/>
<circle cx="1156.4" cy="857.1" r="13.2"/>
<circle cx="1152.6" cy="666.1" r="13.2"/>
<circle cx="1152.0" cy="699.5" r="13.2"/>
<circle cx="1188.9" cy="780.5" r="13.2"/>
<circle cx="1091.4" cy="843.5" r="13.2"/>
<circle cx="1115.9" cy="609.0" r="13.2"/>
<circle cx="1083.9" cy="645.7" r="13.2"/>
<circle cx="1141.4" cy="581.3" r="13.2"/>
<circle cx="1166.7" cy="646.1" r="13.2"/>
<circle cx="1156.2" cy="655.7" r="13.2"/>
<circle cx="1165.0" cy="437.7" r="13.2"/>
<circle cx="1118.5" cy="462.1" r="13.2"/>
<circle cx="1157.7" cy="887.7" r="13.2"/>
<circle cx="1119.1" cy="806.3" r="13.2"/>
<circle cx="1191.2" cy="594.6" r="13.2"/>
<circle cx="1136.7" cy="746.1" r="13.2"/>
<circle cx="1178.6" cy="456.4" r="13.2"/>
<circle cx="1184.8" cy="447.4" r="13.2"/>
<circle cx="1177.4" cy="812.4" r="13.2"/>
<circle cx="1099.2" cy="501.0" r="13.2"/>
<circle cx="1095.6" cy="697.6" r="13.2"/>
<circle cx="1098.3" cy="769.2" r="13.2"/>
<circle cx="1172.4" cy="818.4" r="13.2"/>
<circle cx="1158.1" cy="658.3" r="13.2"/>
<circle cx="1177.3" cy="660.7" r="13.2"/>
<circle cx="1193.8" cy="817.0" r="13.2"/>
<circle cx="1132.3" cy="681.5" r="13.2"/>
<circle cx="1089.7" cy="823.3" r="13.2"/>
<circle cx="1094.9" cy="614.6" r="13.2"/>
<circle cx="1088.2" cy="771.8" r="13.2"/>
<circle cx="1163.3" cy="605.0" r="13.2"/>
<circle cx="1112.8" cy="778.3" r="13.2"/>
<circle cx="1125.9" cy="511.6" r="13.2"/>
<circle cx="1158.7" cy="842.4" r="13.2"/>
<circle cx="1179.1" cy="793.0" r="13.2"/>
<circle cx="1153.0" cy="229.5" r="13.2"/>
<circle cx="1181.8" cy="882.4" r="13.2"/>
<circle cx="1178.0" cy="474.6" r="13.2"/>
<circle cx="1125.4" cy="744.9" r="13.2"/>
<circle cx="1112.8" cy="673.4" r="13.2"/>
<circle cx="1117.7" cy="795.7" r="13.2"/>
<circle cx="1125.4" cy="758.8" r="13.2"/>
<circle cx="1084.5" cy="396.9" r="13.2"/>
<circle cx="1193.1" cy="705.1" r="13.2"/>
<circle cx="1188.8" cy="472.9" r="13.2"/>
<circle cx="1153.1" cy="742.5" r="13.2"/>
<circle cx="1124.4" cy="909.1" r="13.2"/>
<circle cx="1147.5" cy="655.8" r="13.2"/>
<circle cx="1171.8" cy="494.4" r="13.2"/>
<circle cx="1098.2" cy="621.2" r="13.2"/>
<circle cx="1102.6" cy="749.0" r="13.2"/>
<circle cx="1123.5" cy="775.6" r="13.2"/>
<circle cx="1161.0" cy="781.8" r="13.2"/>
<circle cx="1187.2" cy="596.1" r="13.2"/>
<circle cx="1169.6" cy="538.2" r="13.2"/>
<circle cx="1125.9" cy="548.1" r="13.2"/>
<circle cx="1129.2" cy="623.4" r="13.2"/>
<circle cx="1134.2" cy="726.6" r="13.2"/>
<circle cx="1112.8" cy="782.8" r="13.2"/>
<circle cx="1172.4" cy="955.8" r="13.2"/>
<circle cx="1124.8" cy="541.5" r="13.2"/>
<circle cx="1109.0" cy="786.9" r="13.2"/>
<circle cx="1128.0" cy="703.9" r="13.2"/>
<circle cx="1160.0" cy="627.8" r="13.2"/>
<circle cx="1093.5" cy="710.0" r="13.2"/>
<circle cx="1156.4" cy="819.7" r="13.2"/>
<circle cx="1097.4" cy="742.4" r="13.2"/>
<circle cx="1097.2" cy="701.0" r="13.2"/>
<circle cx="1188.5" cy="629.1" r="13.2"/>
<circle cx="1083.5" cy="684.5" r="13.2"/>
<circle cx="1149.7" cy="845.0" r="13.2"/>
<circle cx="1135.3" cy="700.3" r="13.2"/>
<circle cx="1152.7" cy="652.8" r="13.2"/>
<circle cx="1133.0" cy="688.1" r="13.2"/>
<circle cx="1100.1" cy="741.4" r="13.2"/>
<circle cx="1087.2" cy="646.5" r="13.2"/>
<circle cx="1125.9" cy="652.1" r="13.2"/>
<circle cx="1165.7" cy="627.9" r="13.2"/>
<circle cx="1100.6" cy="718.3" r="13.2"/>
<circle cx="1197.3" cy="518.2" r="13.2"/>
<circle cx="1100.9" cy="674.2" r="13.2"/>
<circle cx="1157.6" cy="725.1" r="13.2"/>
<circle cx="1089.3" cy="583.6" r="13.2"/>
<circle cx="1183.1" cy="873.1" r="13.2"/>
<circle cx="1161.8" cy="825.0" r="13.2"/>
<circle cx="1095.0" cy="814.4" r="13.2"/>
<circle cx="1124.7" cy="429.8" r="13.2"/>
<circle cx="1171.3" cy="571.4" r="13.2"/>
<circle cx="1095.0" cy="797.0" r="13.2"/>
<circle cx="1161.6" cy="606.7" r="13.2"/>
<circle cx="1170.7" cy="614.3" r="13.2"/>
<circle cx="1083.0" cy="810.4" r="13.2"/>
<circle cx="1114.8" cy="569.2" r="13.2"/>
<circle cx="1137.3" cy="741.5" r="13.2"/>
<circle cx="1178.3" cy="754.4" r="13.2"/>
<circle cx="1195.3" cy="666.6" r="13.2"/>
<circle cx="1153.0" cy="763.7" r="13.2"/>
<circle cx="1093.8" cy="599.1" r="13.2"/>
<circle cx="1106.6" cy="649.0" r="13.2"/>
<circle cx="1149.6" cy="768.9" r="13.2"/>
<circle cx="1179.1" cy="865.1" r="13.2"/>
<circle cx="1191.4" cy="752.0" r="13.2"/>
<circle cx="1136.4" cy="919.8" r="13.2"/>
<circle cx="1124.8" cy="529.3" r="13.2"/>
<circle cx="1197.1" cy="779.1" r="13.2"/>
<circle cx="1192.3" cy="631.2" r="13.2"/>
<circle cx="1104.3" cy="671.3" r="13.2"/>
<circle cx="1195.1" cy="871.7" r="13.2"/>
<circle cx="1157.2" cy="815.8" r="13.2"/>
<circle cx="1136.5" cy="769.4" r="13.2"/>
<circle cx="1195.1" cy="412.2" r="13.2"/>
<circle cx="1090.9" cy="609.5" r="13.2"/>
<circle cx="1146.9" cy="506.0" r="13.2"/>
<circle cx="1121.0" cy="815.3" r="13.2"/>
<circle cx="1180.1" cy="552.6" r="13.2"/>
<circle cx="1172.9" cy="760.1" r="13.2"/>
<circle cx="1127.0" cy="771.9" r="13.2"/>
<circle cx="1164.4" cy="486.5" r="13.2"/>
<circle cx="1152.5" cy="617.9" r="13.2"/>
<circle cx="1192.3" cy="574.7" r="13.2"/>
<circle cx="1163.3" cy="444.5" r="13.2"/>
<circle cx="1139.2" cy="603.5" r="13.2"/>
<circle cx="1189.9" cy="726.7" r="13.2"/>
<circle cx="1113.4" cy="398.6" r="13.2"/>
<circle cx="1138.1" cy="560.3" r="13.2"/>
<circle cx="1130.3" cy="637.8" r="13.2"/>
<circle cx="1199.0" cy="649.9" r="13.2"/>
<circle cx="1109.3" cy="583.6" r="13.2"/>
<circle cx="1097.0" cy="962.5" r="13.2"/>
<circle cx="1093.0" cy="669.6" r="13.2"/>
<circle cx="1105.2" cy="728.7" r="13.2"/>
<circle cx="1117.0" cy="547.0" r="13.2"/>
<circle cx="1086.0" cy="623.0" r="13.2"/>
<circle cx="1129.7" cy="799.7" r="13.2"/>
<circle cx="1185.8" cy="931.8" r="13.2"/>
<circle cx="1191.1" cy="854.4" r="13.2"/>
<circle cx="1084.9" cy="708.1" r="13.2"/>
<circle cx="1171.3" cy="511.6" r="13.2"/>
<circle cx="1182.0" cy="683.1" r="13.2"/>
<circle cx="1148.3" cy="835.4" r="13.2"/>
<circle cx="1149.1" cy="757.0" r="13.2"/>
<circle cx="1192.9" cy="757.2" r="13.2"/>
<circle cx="1093.7" cy="839.7" r="13.2"/>
<circle cx="1143.6" cy="693.4" r="13.2"/>
<circle cx="1153.7" cy="677.3" r="13.2"/>
<circle cx="1145.8" cy="604.6" r="13.2"/>
<circle cx="1119.6" cy="349.3" r="13.2"/>
<circle cx="1183.8" cy="786.7" r="13.2"/>
<circle cx="1181.8" cy="846.4" r="13.2"/>
<circle cx="1142.5" cy="562.5" r="13.2"/>
<circle cx="1149.1" cy="516.0" r="13.2"/>
<circle cx="1114.5" cy="471.8" r="13.2"/>
<circle cx="1131.1" cy="712.2" r="13.2"/>
<circle cx="1149.1" cy="713.8" r="13.2"/>
<circle cx="1177.5" cy="764.0" r="13.2"/>
<circle cx="1174.6" cy="735.0" r="13.2"/>
<circle cx="1138.6" cy="719.0" r="13.2"/>
<circle cx="1168.4" cy="678.5" r="13.2"/>
<circle cx="1148.0" cy="650.9" r="13.2"/>
<circle cx="1153.7" cy="799.7" r="13.2"/>
<circle cx="1194.5" cy="465.0" r="13.2"/>
<circle cx="1124.2" cy="439.4" r="13.2"/>
<circle cx="1119.4" cy="655.0" r="13.2"/>
<circle cx="1156.5" cy="469.5" r="13.2"/>
<circle cx="1111.0" cy="890.4" r="13.2"/>
</g>
<g fill="rgba(160,185,235,0.2)" stroke="rgba(0,0,15,0.28)" stroke-width="1.6">
<circle cx="1266.6" cy="990.1" r="13.2"/>
<circle cx="1306.9" cy="864.8" r="13.2"/>
<circle cx="1312.7" cy="918.5" r="13.2"/>
<circle cx="1311.0" cy="683.7" r="13.2"/>
<circle cx="1330.1" cy="817.2" r="13.2"/>
<circle cx="1258.8" cy="748.3" r="13.2"/>
<circle cx="1320.8" cy="1137.3" r="13.2"/>
<circle cx="1338.3" cy="838.7" r="13.2"/>
<circle cx="1355.7" cy="762.6" r="13.2"/>
<circle cx="1257.5" cy="1170.3" r="13.2"/>
<circle cx="1356.9" cy="746.7" r="13.2"/>
<circle cx="1287.1" cy="951.6" r="13.2"/>
<circle cx="1309.0" cy="765.1" r="13.2"/>
<circle cx="1275.2" cy="1199.4" r="13.2"/>
<circle cx="1337.7" cy="903.5" r="13.2"/>
<circle cx="1327.9" cy="1059.7" r="13.2"/>
<circle cx="1251.5" cy="665.2" r="13.2"/>
<circle cx="1277.7" cy="1093.0" r="13.2"/>
<circle cx="1319.5" cy="956.4" r="13.2"/>
<circle cx="1335.9" cy="684.6" r="13.2"/>
<circle cx="1258.4" cy="841.3" r="13.2"/>
<circle cx="1314.5" cy="1221.6" r="13.2"/>
<circle cx="1306.2" cy="706.3" r="13.2"/>
<circle cx="1311.9" cy="520.4" r="13.2"/>
<circle cx="1307.3" cy="771.6" r="13.2"/>
<circle cx="1335.1" cy="1015.3" r="13.2"/>
<circle cx="1295.4" cy="793.0" r="13.2"/>
<circle cx="1291.8" cy="917.7" r="13.2"/>
<circle cx="1310.7" cy="900.1" r="13.2"/>
<circle cx="1256.2" cy="1233.0" r="13.2"/>
<circle cx="1261.8" cy="1026.1" r="13.2"/>
<circle cx="1294.6" cy="733.6" r="13.2"/>
<circle cx="1323.9" cy="817.1" r="13.2"/>
<circle cx="1278.5" cy="745.2" r="13.2"/>
<circle cx="1354.7" cy="583.7" r="13.2"/>
<circle cx="1267.7" cy="841.9" r="13.2"/>
<circle cx="1277.7" cy="938.5" r="13.2"/>
<circle cx="1333.2" cy="721.5" r="13.2"/>
<circle cx="1288.8" cy="816.2" r="13.2"/>
<circle cx="1353.1" cy="865.4" r="13.2"/>
<circle cx="1305.9" cy="784.7" r="13.2"/>
<circle cx="1360.9" cy="699.4" r="13.2"/>
<circle cx="1265.4" cy="926.4" r="13.2"/>
<circle cx="1342.7" cy="694.9" r="13.2"/>
<circle cx="1285.9" cy="991.3" r="13.2"/>
<circle cx="1344.7" cy="962.5" r="13.2"/>
<circle cx="1325.1" cy="687.9" r="13.2"/>
<circle cx="1326.7" cy="998.5" r="13.2"/>
<circle cx="1264.2" cy="872.7" r="13.2"/>
<circle cx="1247.4" cy="963.7" r="13.2"/>
<circle cx="1258.3" cy="578.5" r="13.2"/>
<circle cx="1347.0" cy="885.5" r="13.2"/>
<circle cx="1339.7" cy="879.1" r="13.2"/>
<circle cx="1341.1" cy="1002.1" r="13.2"/>
<circle cx="1280.0" cy="601.9" r="13.2"/>
<circle cx="1248.6" cy="1148.7" r="13.2"/>
<circle cx="1306.3" cy="807.6" r="13.2"/>
<circle cx="1307.5" cy="1003.3" r="13.2"/>
<circle cx="1330.0" cy="1081.0" r="13.2"/>
<circle cx="1307.3" cy="611.0" r="13.2"/>
<circle cx="1331.3" cy="649.3" r="13.2"/>
<circle cx="1282.3" cy="592.8" r="13.2"/>
<circle cx="1276.6" cy="660.7" r="13.2"/>
<circle cx="1308.1" cy="1094.2" r="13.2"/>
<circle cx="1278.7" cy="904.7" r="13.2"/>
<circle cx="1270.2" cy="951.6" r="13.2"/>
<circle cx="1323.1" cy="770.2" r="13.2"/>
<circle cx="1322.9" cy="897.3" r="13.2"/>
<circle cx="1293.6" cy="1115.8" r="13.2"/>
<circle cx="1294.3" cy="1014.1" r="13.2"/>
<circle cx="1272.0" cy="1159.5" r="13.2"/>
<circle cx="1354.7" cy="801.5" r="13.2"/>
<circle cx="1329.0" cy="704.0" r="13.2"/>
<circle cx="1358.7" cy="598.5" r="13.2"/>
<circle cx="1265.8" cy="803.4" r="13.2"/>
<circle cx="1283.5" cy="1008.1" r="13.2"/>
<circle cx="1289.9" cy="962.6" r="13.2"/>
<circle cx="1254.6" cy="766.0" r="13.2"/>
<circle cx="1266.8" cy="704.4" r="13.2"/>
<circle cx="1262.9" cy="650.4" r="13.2"/>
<circle cx="1311.9" cy="827.9" r="13.2"/>
<circle cx="1252.2" cy="930.0" r="13.2"/>
<circle cx="1265.2" cy="640.2" r="13.2"/>
<circle cx="1249.8" cy="671.8" r="13.2"/>
<circle cx="1282.8" cy="588.8" r="13.2"/>
<circle cx="1330.0" cy="942.5" r="13.2"/>
<circle cx="1272.3" cy="783.8" r="13.2"/>
<circle cx="1333.9" cy="978.1" r="13.2"/>
<circle cx="1341.1" cy="926.4" r="13.2"/>
<circle cx="1245.8" cy="705.2" r="13.2"/>
<circle cx="1345.9" cy="921.6" r="13.2"/>
<circle cx="1340.4" cy="934.1" r="13.2"/>
<circle cx="1338.9" cy="920.0" r="13.2"/>
<circle cx="1308.1" cy="1133.5" r="13.2"/>
<circle cx="1270.8" cy="1161.4" r="13.2"/>
<circle cx="1351.1" cy="737.1" r="13.2"/>
<circle cx="1359.5" cy="1103.7" r="13.2"/>
<circle cx="1251.5" cy="950.4" r="13.2"/>
<circle cx="1245.6" cy="890.3" r="13.2"/>
<circle cx="1271.4" cy="981.7" r="13.2"/>
<circle cx="1349.5" cy="671.0" r="13.2"/>
<circle cx="1262.3" cy="858.3" r="13.2"/>
<circle cx="1342.2" cy="781.0" r="13.2"/>
<circle cx="1288.0" cy="688.0" r="13.2"/>
<circle cx="1259.4" cy="970.9" r="13.2"/>
<circle cx="1306.6" cy="687.5" r="13.2"/>
<circle cx="1332.5" cy="859.2" r="13.2"/>
<circle cx="1310.5" cy="834.3" r="13.2"/>
<circle cx="1297.1" cy="642.4" r="13.2"/>
<circle cx="1324.7" cy="711.4" r="13.2"/>
<circle cx="1285.1" cy="831.5" r="13.2"/>
<circle cx="1284.5" cy="627.6" r="13.2"/>
<circle cx="1289.0" cy="824.2" r="13.2"/>
<circle cx="1290.3" cy="818.6" r="13.2"/>
<circle cx="1341.8" cy="822.5" r="13.2"/>
<circle cx="1322.2" cy="659.5" r="13.2"/>
<circle cx="1356.3" cy="884.6" r="13.2"/>
<circle cx="1344.4" cy="786.4" r="13.2"/>
<circle cx="1278.7" cy="962.5" r="13.2"/>
<circle cx="1336.4" cy="509.5" r="13.2"/>
<circle cx="1294.8" cy="1153.8" r="13.2"/>
<circle cx="1293.9" cy="758.8" r="13.2"/>
<circle cx="1297.9" cy="853.0" r="13.2"/>
<circle cx="1343.8" cy="711.0" r="13.2"/>
<circle cx="1295.5" cy="811.4" r="13.2"/>
<circle cx="1345.0" cy="516.4" r="13.2"/>
<circle cx="1335.5" cy="809.2" r="13.2"/>
<circle cx="1245.4" cy="1170.3" r="13.2"/>
<circle cx="1301.7" cy="917.8" r="13.2"/>
<circle cx="1299.1" cy="932.4" r="13.2"/>
<circle cx="1278.4" cy="1138.6" r="13.2"/>
<circle cx="1253.8" cy="601.9" r="13.2"/>
<circle cx="1355.3" cy="831.4" r="13.2"/>
<circle cx="1245.8" cy="829.8" r="13.2"/>
<circle cx="1256.0" cy="578.0" r="13.2"/>
<circle cx="1315.5" cy="822.8" r="13.2"/>
<circle cx="1276.3" cy="1005.7" r="13.2"/>
<circle cx="1296.9" cy="791.4" r="13.2"/>
<circle cx="1341.1" cy="952.8" r="13.2"/>
<circle cx="1335.3" cy="798.6" r="13.2"/>
<circle cx="1332.7" cy="1075.4" r="13.2"/>
<circle cx="1251.6" cy="802.7" r="13.2"/>
<circle cx="1302.3" cy="879.0" r="13.2"/>
<circle cx="1248.4" cy="706.0" r="13.2"/>
<circle cx="1262.9" cy="958.4" r="13.2"/>
<circle cx="1334.5" cy="896.1" r="13.2"/>
<circle cx="1317.8" cy="799.3" r="13.2"/>
<circle cx="1362.1" cy="708.6" r="13.2"/>
<circle cx="1360.0" cy="837.1" r="13.2"/>
<circle cx="1257.1" cy="857.7" r="13.2"/>
<circle cx="1345.5" cy="733.1" r="13.2"/>
<circle cx="1328.3" cy="806.0" r="13.2"/>
<circle cx="1355.6" cy="876.8" r="13.2"/>
<circle cx="1273.3" cy="894.8" r="13.2"/>
<circle cx="1309.9" cy="729.5" r="13.2"/>
<circle cx="1257.2" cy="688.0" r="13.2"/>
<circle cx="1307.3" cy="665.2" r="13.2"/>
<circle cx="1289.7" cy="775.3" r="13.2"/>
<circle cx="1350.5" cy="852.7" r="13.2"/>
<circle cx="1262.8" cy="864.5" r="13.2"/>
<circle cx="1279.8" cy="774.3" r="13.2"/>
<circle cx="1324.5" cy="692.6" r="13.2"/>
<circle cx="1311.0" cy="825.3" r="13.2"/>
<circle cx="1246.8" cy="814.7" r="13.2"/>
<circle cx="1331.5" cy="996.1" r="13.2"/>
<circle cx="1314.9" cy="883.3" r="13.2"/>
<circle cx="1345.4" cy="744.4" r="13.2"/>
<circle cx="1294.9" cy="783.1" r="13.2"/>
<circle cx="1290.9" cy="790.5" r="13.2"/>
<circle cx="1315.9" cy="932.4" r="13.2"/>
<circle cx="1245.8" cy="560.3" r="13.2"/>
<circle cx="1315.9" cy="479.3" r="13.2"/>
<circle cx="1275.5" cy="816.4" r="13.2"/>
<circle cx="1281.1" cy="656.1" r="13.2"/>
<circle cx="1318.3" cy="1189.9" r="13.2"/>
<circle cx="1275.0" cy="1040.5" r="13.2"/>
<circle cx="1278.8" cy="485.0" r="13.2"/>
<circle cx="1318.8" cy="727.1" r="13.2"/>
<circle cx="1285.9" cy="793.3" r="13.2"/>
<circle cx="1333.9" cy="1040.5" r="13.2"/>
<circle cx="1282.3" cy="462.2" r="13.2"/>
<circle cx="1272.6" cy="503.8" r="13.2"/>
<circle cx="1261.2" cy="777.3" r="13.2"/>
<circle cx="1315.9" cy="846.5" r="13.2"/>
<circle cx="1296.5" cy="562.6" r="13.2"/>
<circle cx="1302.2" cy="829.8" r="13.2"/>
<circle cx="1270.1" cy="765.8" r="13.2"/>
<circle cx="1335.7" cy="780.7" r="13.2"/>
<circle cx="1304.8" cy="767.4" r="13.2"/>
<circle cx="1298.6" cy="1136.0" r="13.2"/>
<circle cx="1245.8" cy="676.6" r="13.2"/>
<circle cx="1277.8" cy="796.4" r="13.2"/>
<circle cx="1316.5" cy="892.9" r="13.2"/>
<circle cx="1351.2" cy="813.4" r="13.2"/>
<circle cx="1340.4" cy="601.9" r="13.2"/>
<circle cx="1245.0" cy="936.0" r="13.2"/>
<circle cx="1354.8" cy="715.6" r="13.2"/>
<circle cx="1278.7" cy="924.0" r="13.2"/>
<circle cx="1338.9" cy="890.7" r="13.2"/>
<circle cx="1327.9" cy="913.2" r="13.2"/>
<circle cx="1304.4" cy="906.7" r="13.2"/>
<circle cx="1296.7" cy="1022.5" r="13.2"/>
<circle cx="1306.0" cy="788.6" r="13.2"/>
<circle cx="1283.4" cy="705.2" r="13.2"/>
<circle cx="1280.4" cy="808.1" r="13.2"/>
<circle cx="1274.5" cy="711.1" r="13.2"/>
<circle cx="1250.6" cy="878.6" r="13.2"/>
<circle cx="1296.1" cy="1109.4" r="13.2"/>
<circle cx="1285.3" cy="783.5" r="13.2"/>
<circle cx="1311.1" cy="1030.9" r="13.2"/>
<circle cx="1277.4" cy="812.2" r="13.2"/>
<circle cx="1317.6" cy="653.8" r="13.2"/>
<circle cx="1261.8" cy="921.6" r="13.2"/>
<circle cx="1355.5" cy="817.1" r="13.2"/>
<circle cx="1243.8" cy="1050.1" r="13.2"/>
<circle cx="1255.9" cy="818.6" r="13.2"/>
<circle cx="1269.7" cy="606.0" r="13.2"/>
<circle cx="1334.1" cy="1139.2" r="13.2"/>
<circle cx="1308.7" cy="1075.4" r="13.2"/>
</g>
<circle cx="335.3" cy="722.5" r="12.4" fill="#000"/>
<circle cx="496.5" cy="733.8" r="12.4" fill="#000"/>
<circle cx="657.7" cy="853.0" r="12.4" fill="#000"/>
<circle cx="980.1" cy="721.7" r="12.4" fill="#000"/>
<circle cx="1141.4" cy="702.3" r="12.4" fill="#000"/>
<circle cx="1302.6" cy="818.1" r="12.4" fill="#000"/>
<rect x="110.2" y="113.2" width="1417.3" height="1270.1" fill="none" stroke="#2a2a2a" stroke-width="1.9"/>
<g stroke="#333333" stroke-width="2.2">
<line x1="100.3" x2="110.2" y1="348.0" y2="348.0"/>
<line x1="100.3" x2="110.2" y1="703.6" y2="703.6"/>
<line x1="100.3" x2="110.2" y1="1059.2" y2="1059.2"/>
<line x1="496.6" x2="496.6" y1="1383.3" y2="1393.3"/>
<line x1="1140.9" x2="1140.9" y1="1383.3" y2="1393.3"/>
</g>
<g fill="#4d4d4d" font-size="43.5" text-anchor="end">
<text x="93.8" y="364.2">4</text>
<text x="93.8" y="719.8">2</text>
<text x="93.8" y="1075.4">0</text>
</g>
<g fill="#4d4d4d" font-size="43" text-anchor="middle">
<text x="496.6" y="1432.1">Negative</text>
<text x="1140.9" y="1432.1">Positive</text>
</g>
<text x="818.6" y="1487.8" font-size="54.5" text-anchor="middle" fill="#000">Valence</text>
<text transform="translate(49.5,746.8) rotate(-90)" x="0" y="0" font-size="53.5" text-anchor="middle" fill="#000">Log Response Times (s)</text>
<text x="410.3" y="46.5" font-size="46.9" fill="#000">Cognitive Load</text>
<line x1="768.3" x2="768.3" y1="6.3" y2="51.8" stroke="#000" stroke-width="3.4"/>
<rect x="746.9" y="14.8" width="42.8" height="29.1" fill="#e63946" stroke="#000" stroke-width="2.7"/>
<line x1="746.9" x2="789.7" y1="29.5" y2="29.5" stroke="#000" stroke-width="2.8"/>
<circle cx="768.3" cy="29.4" r="11.7" fill="#000"/>
<text x="815.5" y="44.4" font-size="40" fill="#000">high</text>
<line x1="937.1" x2="937.1" y1="6.3" y2="51.8" stroke="#000" stroke-width="3.4"/>
<rect x="915.7" y="14.8" width="42.8" height="29.1" fill="#5c626e" stroke="#000" stroke-width="2.7"/>
<line x1="915.7" x2="958.5" y1="29.5" y2="29.5" stroke="#000" stroke-width="2.8"/>
<circle cx="937.1" cy="29.4" r="11.7" fill="#000"/>
<text x="983.5" y="44.4" font-size="40" fill="#000">low</text>
<line x1="1090.5" x2="1090.5" y1="6.3" y2="51.8" stroke="#000" stroke-width="3.4"/>
<rect x="1069.1" y="14.8" width="42.8" height="29.1" fill="#a0b9eb" stroke="#000" stroke-width="2.7"/>
<line x1="1069.1" x2="1111.9" y1="29.5" y2="29.5" stroke="#000" stroke-width="2.8"/>
<circle cx="1090.5" cy="29.4" r="11.7" fill="#000"/>
<text x="1136.5" y="44.4" font-size="40" fill="#000">none</text>
</svg>
</body></html>
